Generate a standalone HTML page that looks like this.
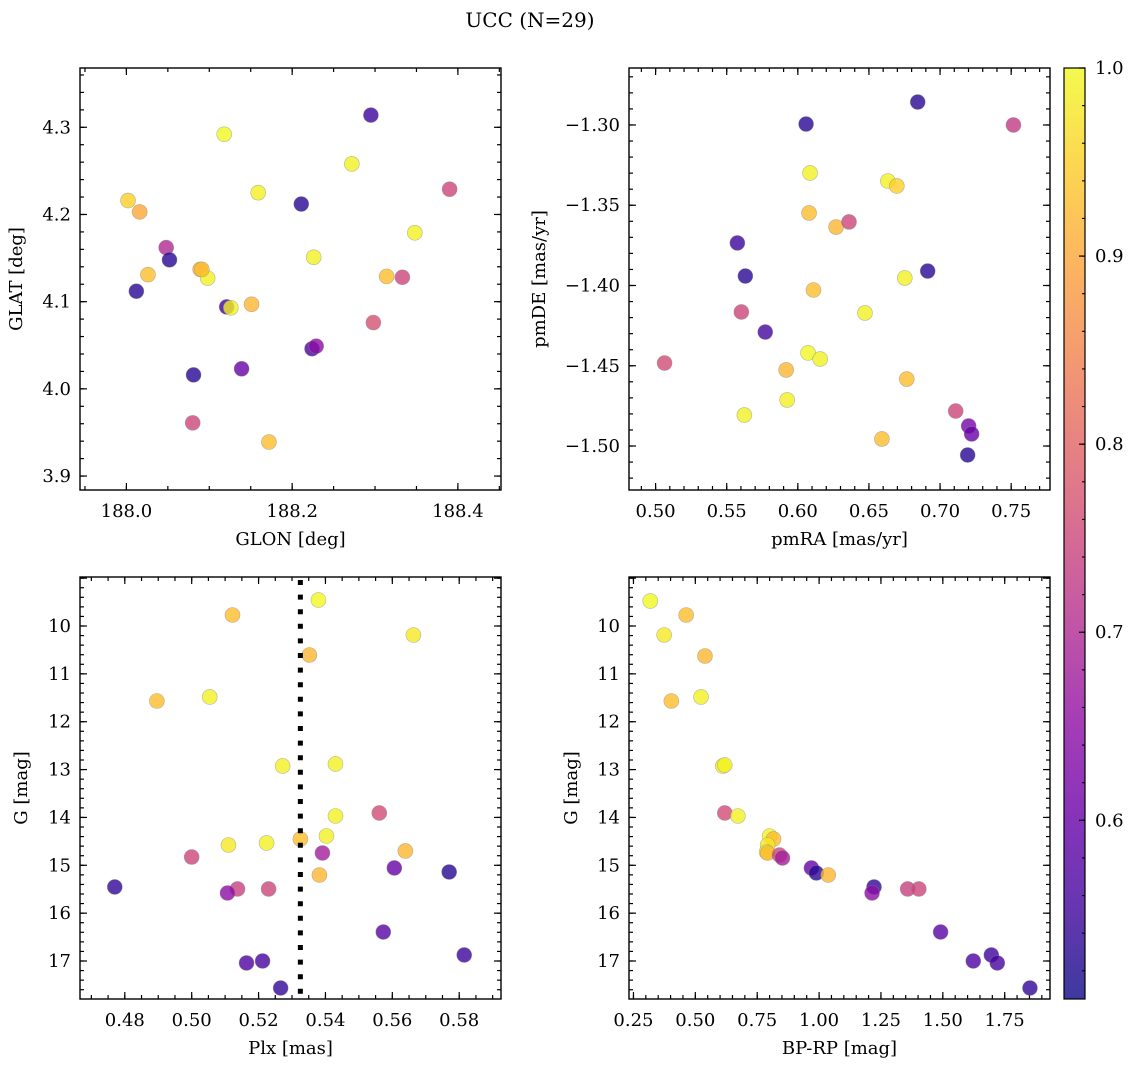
<!DOCTYPE html>
<html><head><meta charset="utf-8"><style>
html,body{margin:0;padding:0;background:#fff;}
svg text{font-family:"DejaVu Serif","Liberation Serif",serif;fill:#000;}
</style></head><body>
<svg id="fig" width="1136" height="1067" viewBox="0 0 1136 1067" xmlns="http://www.w3.org/2000/svg">
<text x="530" y="27" font-size="20" text-anchor="middle">UCC (N=29)</text>
</svg>
<script>
// ---- data: top-left GLON/GLAT ----
const tlGlon=[188.118,188.295,188.272,188.002,188.016,188.159,188.211,188.390,188.348,188.048,188.052,188.012,188.026,188.089,188.098,188.314,188.226,188.333,188.151,188.121,188.126,188.298,188.224,188.229,188.139,188.081,188.080,188.172,188.091];
const tlGlat=[4.292,4.314,4.258,4.216,4.203,4.225,4.212,4.229,4.179,4.162,4.148,4.112,4.131,4.137,4.127,4.129,4.151,4.128,4.097,4.094,4.093,4.076,4.046,4.049,4.023,4.016,3.961,3.939,4.137];
const tlProb=[1.0,0.55,0.99,0.95,0.9,0.99,0.53,0.75,0.99,0.7,0.53,0.53,0.93,0.92,0.99,0.93,0.99,0.75,0.92,0.55,0.99,0.77,0.56,0.65,0.6,0.53,0.75,0.93,0.93];
// ---- data: top-right pmRA/pmDE ----
const trPmra=[0.6843,0.6058,0.7516,0.6086,0.6633,0.6696,0.6079,0.6269,0.636,0.5575,0.5631,0.6913,0.6752,0.611,0.5603,0.6472,0.5771,0.6072,0.6157,0.5063,0.5918,0.6766,0.5925,0.5624,0.6591,0.711,0.7201,0.7222,0.7194];
const trPmde=[-1.2857,-1.2994,-1.300,-1.3299,-1.3349,-1.338,-1.3548,-1.3636,-1.3604,-1.3735,-1.3941,-1.391,-1.3953,-1.4028,-1.4165,-1.4171,-1.429,-1.442,-1.4458,-1.4483,-1.4526,-1.4583,-1.4713,-1.4807,-1.4956,-1.4782,-1.4875,-1.4925,-1.5056];
const trProb=[0.53,0.53,0.73,0.99,0.99,0.95,0.93,0.92,0.75,0.55,0.53,0.53,0.99,0.93,0.75,0.99,0.56,1.0,0.99,0.76,0.92,0.93,0.99,0.99,0.93,0.75,0.62,0.6,0.53];
// ---- data: bottom-left Plx/G ----
const blPlx=[0.5379,0.5122,0.5663,0.5352,0.5054,0.4896,0.5272,0.5430,0.5430,0.5561,0.5403,0.5325,0.5224,0.5110,0.5391,0.5639,0.5000,0.5606,0.5770,0.5382,0.4770,0.5137,0.5107,0.5230,0.5573,0.5164,0.5212,0.5815,0.5266];
const blG=[9.457,9.770,10.188,10.606,11.483,11.567,12.925,12.883,13.97,13.907,14.388,14.451,14.534,14.576,14.743,14.701,14.827,15.056,15.140,15.203,15.453,15.495,15.579,15.495,16.394,17.041,17.000,16.874,17.564];
const blProb=[1.0,0.93,0.98,0.92,0.99,0.93,0.99,0.99,0.99,0.76,0.99,0.93,0.99,0.98,0.68,0.92,0.75,0.6,0.53,0.92,0.54,0.74,0.65,0.75,0.58,0.57,0.56,0.55,0.54];
const plxMedian=0.5325;
// ---- data: bottom-right BP-RP/G ----
const brBprp=[0.318,0.463,0.374,0.539,0.523,0.403,0.611,0.619,0.619,0.672,0.800,0.816,0.792,0.788,0.792,0.840,0.852,0.969,0.989,1.037,1.222,1.214,1.358,1.403,1.491,1.623,1.696,1.720,1.852];
const brG=[9.478,9.770,10.188,10.627,11.483,11.567,12.925,12.904,13.907,13.970,14.388,14.451,14.576,14.722,14.743,14.785,14.847,15.056,15.161,15.203,15.453,15.579,15.495,15.495,16.394,17.000,16.874,17.041,17.564];
const brProb=[1.0,0.93,0.98,0.92,0.99,0.93,0.99,0.99,0.76,0.99,0.99,0.93,0.98,0.99,0.92,0.75,0.68,0.6,0.53,0.92,0.54,0.65,0.74,0.75,0.58,0.57,0.55,0.56,0.54];
// ---- tick labels ----
const tlXTicks=[188.0,188.2,188.4], tlYTicks=[3.9,4.0,4.1,4.2,4.3];
const trXTicks=[0.50,0.55,0.60,0.65,0.70,0.75], trYTicks=[-1.50,-1.45,-1.40,-1.35,-1.30];
const blXTicks=[0.48,0.50,0.52,0.54,0.56,0.58], gTicks=[10,11,12,13,14,15,16,17];
const brXTicks=[0.25,0.50,0.75,1.00,1.25,1.50,1.75], cbTicks=[0.6,0.7,0.8,0.9,1.0];

const NS='http://www.w3.org/2000/svg';
const svg=document.getElementById('fig');
const FS=18;
function el(tag,attrs,parent){const e=document.createElementNS(NS,tag);for(const k in attrs)e.setAttribute(k,attrs[k]);(parent||svg).appendChild(e);return e;}
const stops=['#0d0887','#41049d','#6a00a8','#8f0da4','#b12a90','#cc4778','#e16462','#f2844b','#fca636','#fcce25','#f0f921'];
function hex(h){return [1,3,5].map(i=>parseInt(h.substr(i,2),16));}
function plasma(t){t=Math.max(0,Math.min(1,t));const f=t*10,i=Math.min(9,Math.floor(f)),r=f-i;const a=hex(stops[i]),b=hex(stops[i+1]);return 'rgb('+a.map((v,k)=>Math.round(v+(b[k]-v)*r)).join(',')+')';}
const vmin=0.505,vmax=1.0;
function cmap(p){return plasma((p-vmin)/(vmax-vmin));}

function panel(name,box,xr,yr,xMajor,xMinor,yMajor,yMinor,xTicks,yTicks,xFmt,yFmt,xLabel,yLabel,xs,ys,ps,yLabelX){
  const g=el('g',{});
  
  
  const [L,T,R,B]=box;
  const sx=v=>L+(v-xr[0])/(xr[1]-xr[0])*(R-L);
  const sy=v=>B-(v-yr[0])/(yr[1]-yr[0])*(B-T);
  function ticks(step,len,isX){
    const r=isX?xr:yr;const lo=Math.min(r[0],r[1]),hi=Math.max(r[0],r[1]);
    for(let v=Math.ceil(lo/step-1e-6)*step;v<=hi+1e-9;v+=step){
      if(isX){const x=sx(v);el('line',{x1:x,y1:B,x2:x,y2:B-len,stroke:'#000','stroke-width':1.2},g);el('line',{x1:x,y1:T,x2:x,y2:T+len,stroke:'#000','stroke-width':1.2},g);}
      else{const y=sy(v);el('line',{x1:L,y1:y,x2:L+len,y2:y,stroke:'#000','stroke-width':1.2},g);el('line',{x1:R,y1:y,x2:R-len,y2:y,stroke:'#000','stroke-width':1.2},g);}
    }
  }
  ticks(xMinor,4,true);ticks(xMajor,7,true);ticks(yMinor,4,false);ticks(yMajor,7,false);
  xTicks.forEach(v=>{const t=el('text',{x:sx(v),y:B+27,'font-size':FS,'text-anchor':'middle'},g);t.textContent=xFmt(v);
    
    });
  yTicks.forEach(v=>{const t=el('text',{x:L-9,y:sy(v)+6,'font-size':FS,'text-anchor':'end'},g);t.textContent=yFmt(v);
    
    });
  const xl=el('text',{x:(L+R)/2,y:B+55,'font-size':FS,'text-anchor':'middle'},g);xl.textContent=xLabel;
  
  
  const yl=el('text',{x:yLabelX,y:(T+B)/2,'font-size':FS,'text-anchor':'middle',transform:'rotate(-90 '+yLabelX+' '+((T+B)/2)+')'},g);yl.textContent=yLabel;
  
  
  const pts=el('g',{},g);
  xs.forEach((v,i)=>{const c=el('circle',{cx:sx(v),cy:sy(ys[i]),r:7.5,fill:cmap(ps[i]),'fill-opacity':0.8,stroke:'#888','stroke-opacity':0.6,'stroke-width':0.6},pts);
    
    });
  el('rect',{x:L,y:T,width:R-L,height:B-T,fill:'none',stroke:'#000','stroke-width':1.4},g);
  return {sx,sy,g};
}
const f1=v=>v.toFixed(1),f2=v=>v.toFixed(2).replace('-','\u2212'),f0=v=>String(v);
panel('panel-glon-glat',[80,68,501,490],[187.944,188.452],[3.884,4.368],0.2,0.05,0.1,0.02,tlXTicks,tlYTicks,f1,f1,'GLON [deg]','GLAT [deg]',tlGlon,tlGlat,tlProb,22);
panel('panel-pm',[629,68,1050,490],[0.4813,0.7773],[-1.5274,-1.2645],0.05,0.01,0.05,0.01,trXTicks,trYTicks,f2,f2,'pmRA [mas/yr]','pmDE [mas/yr]',trPmra,trPmde,trProb,545);
const bl=panel('panel-plx-g',[80,577,501,999],[0.4666,0.5925],[17.794,8.976],0.02,0.005,1,0.2,blXTicks,gTicks,f2,f0,'Plx [mas]','G [mag]',blPlx,blG,blProb,27);
panel('panel-cmd',[629,577,1050,999],[0.232,1.933],[17.794,8.976],0.25,0.05,1,0.2,brXTicks,gTicks,f2,f0,'BP-RP [mag]','G [mag]',brBprp,brG,brProb,577);
const ml=el('line',{x1:bl.sx(plxMedian),y1:580,x2:bl.sx(plxMedian),y2:999,stroke:'#000','stroke-width':5,'stroke-dasharray':'5 9.6'});


const cb=el('g',{});


const cbL=1064,cbR=1085,cbT=68,cbB=999;
const defs=el('defs',{},cb);
const lg=el('linearGradient',{id:'cbg',x1:0,y1:1,x2:0,y2:0},defs);
for(let i=0;i<=20;i++){el('stop',{offset:i/20,'stop-color':plasma(i/20)},lg);}
el('rect',{x:cbL,y:cbT,width:cbR-cbL,height:cbB-cbT,fill:'url(#cbg)','fill-opacity':0.8},cb);
const cy=v=>cbB-(v-vmin)/(vmax-vmin)*(cbB-cbT);
for(let v=0.52;v<=1.0001;v+=0.02){el('line',{x1:cbR,y1:cy(v),x2:cbR-3,y2:cy(v),stroke:'#000','stroke-width':1.1},cb);}
cbTicks.forEach(v=>{el('line',{x1:cbR,y1:cy(v),x2:cbR-6,y2:cy(v),stroke:'#000','stroke-width':1.2},cb);
  const t=el('text',{x:cbR+10,y:cy(v)+6,'font-size':FS},cb);t.textContent=v.toFixed(1);
  
  });
el('rect',{x:cbL,y:cbT,width:cbR-cbL,height:cbB-cbT,fill:'none',stroke:'#000','stroke-width':1.2},cb);
</script>
</body></html>
